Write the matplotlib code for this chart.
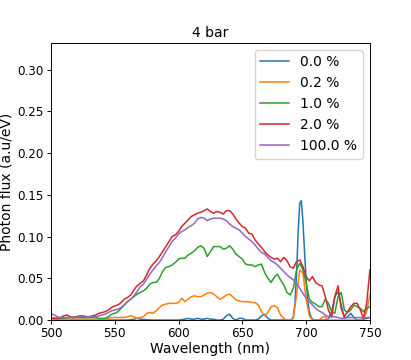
import numpy as np
import matplotlib
matplotlib.use('Agg')
import matplotlib.pyplot as plt

# wavelength grid (nm), 2.5 nm step from 500 to 750
wl = np.arange(500, 750.1, 2.5)

flux_2p0 = [0.003, 0.002, 0.002, 0.003, 0.005, 0.006, 0.004, 0.003, 0.004, 0.005,
            0.005, 0.004, 0.004, 0.005, 0.006, 0.008, 0.009, 0.010, 0.012, 0.015,
            0.017, 0.018, 0.021, 0.025, 0.027, 0.030, 0.036, 0.041, 0.044, 0.047,
            0.054, 0.062, 0.067, 0.071, 0.076, 0.082, 0.088, 0.094, 0.100, 0.102,
            0.106, 0.112, 0.116, 0.120, 0.124, 0.126, 0.128, 0.129, 0.131, 0.133,
            0.130, 0.128, 0.130, 0.129, 0.127, 0.131, 0.131, 0.127, 0.121, 0.116,
            0.112, 0.110, 0.104, 0.103, 0.096, 0.091, 0.087, 0.082, 0.078, 0.075,
            0.073, 0.074, 0.070, 0.075, 0.071, 0.064, 0.062, 0.070, 0.072, 0.064,
            0.052, 0.047, 0.052, 0.045, 0.042, 0.041, 0.028, 0.012, 0.003, 0.028,
            0.041, 0.014, 0.004, 0.010, 0.016, 0.020, 0.020, 0.012, 0.002, 0.020,
            0.060]

flux_100 = [0.008, 0.006, 0.004, 0.003, 0.003, 0.003, 0.003, 0.004, 0.003, 0.004,
            0.005, 0.004, 0.004, 0.004, 0.004, 0.005, 0.006, 0.007, 0.009, 0.011,
            0.012, 0.013, 0.015, 0.018, 0.022, 0.025, 0.029, 0.034, 0.040, 0.043,
            0.049, 0.055, 0.060, 0.065, 0.069, 0.075, 0.082, 0.088, 0.094, 0.098,
            0.103, 0.106, 0.108, 0.111, 0.113, 0.116, 0.121, 0.123, 0.122, 0.119,
            0.121, 0.122, 0.122, 0.122, 0.121, 0.119, 0.115, 0.112, 0.110, 0.108,
            0.104, 0.100, 0.097, 0.094, 0.090, 0.085, 0.081, 0.079, 0.075, 0.071,
            0.069, 0.066, 0.062, 0.058, 0.054, 0.051, 0.048, 0.044, 0.038, 0.032,
            0.026, 0.022, 0.018, 0.014, 0.011, 0.009, 0.006, 0.004, 0.004, 0.004,
            0.003, 0.002, 0.002, 0.003, 0.003, 0.003, 0.003, 0.003, 0.003, 0.003,
            0.003]

flux_1p0 = [0.002, 0.002, 0.002, 0.002, 0.002, 0.003, 0.003, 0.003, 0.003, 0.003,
            0.003, 0.003, 0.003, 0.003, 0.003, 0.002, 0.002, 0.002, 0.004, 0.007,
            0.008, 0.010, 0.014, 0.018, 0.022, 0.025, 0.028, 0.031, 0.033, 0.035,
            0.038, 0.043, 0.045, 0.045, 0.050, 0.058, 0.063, 0.064, 0.066, 0.069,
            0.073, 0.074, 0.074, 0.078, 0.080, 0.083, 0.087, 0.089, 0.086, 0.076,
            0.082, 0.088, 0.088, 0.088, 0.085, 0.086, 0.089, 0.085, 0.079, 0.076,
            0.073, 0.067, 0.066, 0.066, 0.064, 0.066, 0.067, 0.057, 0.050, 0.045,
            0.051, 0.055, 0.048, 0.042, 0.033, 0.030, 0.038, 0.060, 0.068, 0.060,
            0.045, 0.025, 0.021, 0.019, 0.016, 0.016, 0.025, 0.020, 0.010, 0.008,
            0.028, 0.033, 0.012, 0.009, 0.012, 0.018, 0.016, 0.014, 0.010, 0.014,
            0.016]

flux_0p2 = [0.001, 0.001, 0.001, 0.001, 0.001, 0.001, 0.001, 0.001, 0.001, 0.001,
            0.001, 0.001, 0.001, 0.001, 0.001, 0.001, 0.001, 0.001, 0.002, 0.003,
            0.003, 0.003, 0.003, 0.003, 0.004, 0.005, 0.004, 0.002, 0.003, 0.004,
            0.008, 0.009, 0.008, 0.011, 0.015, 0.018, 0.019, 0.020, 0.020, 0.020,
            0.021, 0.026, 0.022, 0.025, 0.028, 0.029, 0.028, 0.028, 0.030, 0.032,
            0.033, 0.031, 0.028, 0.025, 0.027, 0.030, 0.031, 0.028, 0.024, 0.023,
            0.022, 0.022, 0.022, 0.021, 0.021, 0.018, 0.010, 0.005, 0.009, 0.016,
            0.017, 0.015, 0.006, 0.002, 0.000, 0.000, 0.002, 0.030, 0.060, 0.056,
            0.025, 0.005, 0.000, 0.000, 0.000, 0.003, 0.004, 0.000, 0.000, 0.000,
            0.000, 0.000, 0.000, 0.000, 0.000, 0.000, 0.000, 0.000, 0.002, 0.010,
            0.030]

# the 0.0 % curve has a narrow peak near 695 nm, so it gets extra points there
wl_0p0 = [500, 510, 520, 530, 540, 550, 560, 565, 567.5, 570, 580, 590, 600, 605,
          607.5, 610, 612.5, 615, 617.5, 620, 622.5, 625, 627.5, 630, 632.5, 635,
          637.5, 640, 642.5, 645, 647.5, 650, 652.5, 655, 660, 662.5, 665, 667.5,
          670, 672.5, 680, 687.5, 688.75, 690, 691.25, 692.5, 693.75, 695, 696.25,
          697.5, 698.75, 700, 701.25, 702.5, 703.75, 705, 707.5, 710, 715, 717.5,
          720, 722.5, 725, 727.5, 730, 732.5, 735, 737.5, 740, 745, 747.5, 750]
flux_0p0 = [0.000, 0.000, 0.000, 0.000, 0.000, 0.000, 0.000, 0.001, 0.002, 0.001,
            0.000, 0.000, 0.000, 0.001, 0.002, 0.001, 0.001, 0.002, 0.001, 0.001,
            0.002, 0.001, 0.001, 0.000, 0.000, 0.001, 0.005, 0.007, 0.002, 0.000,
            0.002, 0.002, 0.000, 0.000, 0.000, 0.001, 0.005, 0.007, 0.002, 0.000,
            0.000, 0.000, 0.000, 0.004, 0.020, 0.055, 0.105, 0.140, 0.143, 0.118,
            0.082, 0.048, 0.024, 0.010, 0.004, 0.001, 0.000, 0.000, 0.000, 0.002,
            0.010, 0.028, 0.034, 0.018, 0.002, 0.004, 0.008, 0.003, 0.000, 0.001,
            0.002, 0.003]

labels = ['0.0 %', '0.2 %', '1.0 %', '2.0 %', '100.0 %']

plt.rcParams['font.size'] = 10
plt.rcParams['axes.linewidth'] = 0.7
fig = plt.figure(figsize=(4.11, 3.6), dpi=100)
ax = fig.add_axes([0.124, 0.111, 0.776, 0.770])

lw = 1.1
ax.plot(wl_0p0, flux_0p0, color='tab:blue', lw=lw, label=labels[0])
ax.plot(wl, flux_0p2, color='tab:orange', lw=lw, label=labels[1])
ax.plot(wl, flux_1p0, color='tab:green', lw=lw, label=labels[2])
ax.plot(wl, flux_2p0, color='tab:red', lw=lw, label=labels[3])
ax.plot(wl, flux_100, color='tab:purple', lw=lw, label=labels[4])

ax.set_xlim(500, 750)
ax.set_ylim(0, 0.332)
ax.set_xticks([500, 550, 600, 650, 700, 750])
ax.set_yticks([0.00, 0.05, 0.10, 0.15, 0.20, 0.25, 0.30])
ax.tick_params(labelsize=8.6, length=2.6, width=0.7, pad=2.5)
ax.set_xlabel('Wavelength (nm)', fontsize=10, labelpad=1)
ax.set_ylabel('Photon flux (a.u/eV)', fontsize=10, labelpad=2.9)
ax.set_title('4 bar', fontsize=10, pad=4.3)
ax.legend(loc='upper right', fontsize=10, handlelength=2.1)

fig.savefig('out.png', dpi=100)
